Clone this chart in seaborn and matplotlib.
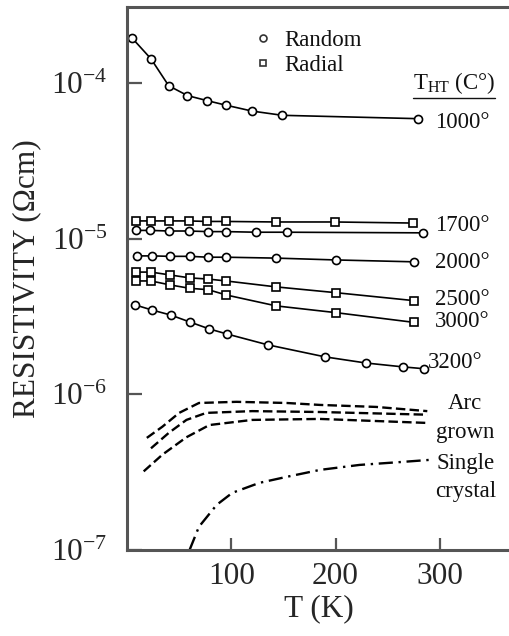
import numpy as np
import pandas as pd
import matplotlib
matplotlib.use("Agg")
import matplotlib.pyplot as plt
import matplotlib.ticker as mticker
from matplotlib.lines import Line2D
import seaborn as sns

# ---------------- data ----------------
T_1000 = [5, 23, 40, 58, 77, 95, 120, 149, 279]
R_1000 = [1.94e-4, 1.43e-4, 9.6e-5, 8.3e-5, 7.7e-5, 7.2e-5, 6.6e-5, 6.2e-5, 5.9e-5]

T_1700r = [9, 23, 40, 59, 77, 95, 143, 199, 274]
R_1700r = [1.30e-5, 1.30e-5, 1.30e-5, 1.30e-5, 1.29e-5, 1.29e-5, 1.28e-5, 1.28e-5, 1.26e-5]

T_1700 = [9, 22, 40, 59, 78, 95, 124, 153, 284]
R_1700 = [1.13e-5, 1.13e-5, 1.12e-5, 1.12e-5, 1.11e-5, 1.11e-5, 1.10e-5, 1.10e-5, 1.09e-5]

T_2000 = [10, 24, 41, 60, 78, 95, 143, 200, 275]
R_2000 = [7.75e-6, 7.75e-6, 7.7e-6, 7.7e-6, 7.6e-6, 7.6e-6, 7.5e-6, 7.3e-6, 7.1e-6]

T_2500 = [9, 23, 41, 60, 78, 95, 143, 200, 275]
R_2500 = [6.1e-6, 6.1e-6, 5.85e-6, 5.6e-6, 5.5e-6, 5.35e-6, 4.9e-6, 4.5e-6, 4.0e-6]

T_3000 = [9, 23, 41, 60, 78, 95, 143, 200, 275]
R_3000 = [5.35e-6, 5.35e-6, 5.05e-6, 4.8e-6, 4.7e-6, 4.35e-6, 3.7e-6, 3.35e-6, 2.9e-6]

T_3200 = [8, 24, 42, 60, 79, 96, 135, 190, 229, 265, 285]
R_3200 = [3.75e-6, 3.48e-6, 3.23e-6, 2.92e-6, 2.63e-6, 2.44e-6, 2.08e-6, 1.74e-6, 1.59e-6, 1.50e-6, 1.46e-6]

T_arc1 = [19, 34, 50, 69, 105, 153, 185, 239, 288]
R_arc1 = [5.25e-7, 6.2e-7, 7.6e-7, 8.8e-7, 8.95e-7, 8.8e-7, 8.55e-7, 8.3e-7, 7.8e-7]
T_arc2 = [23, 40, 57, 76, 120, 185, 288]
R_arc2 = [4.5e-7, 5.65e-7, 6.85e-7, 7.6e-7, 7.8e-7, 7.7e-7, 7.4e-7]
T_arc3 = [16, 34, 57, 79, 120, 185, 288]
R_arc3 = [3.2e-7, 4.1e-7, 5.3e-7, 6.35e-7, 6.85e-7, 6.95e-7, 6.55e-7]

T_single = [60, 69, 86, 101, 127, 153, 185, 223, 264, 292]
R_single = [1.0e-7, 1.41e-7, 1.95e-7, 2.33e-7, 2.7e-7, 2.95e-7, 3.27e-7, 3.52e-7, 3.68e-7, 3.8e-7]

x_ticks = [100, 200, 300]
y_ticks = [1e-7, 1e-6, 1e-5, 1e-4]

series_labels = ["1000°", "1700°", "2000°", "2500°", "3000°", "3200°"]
label_y = [5.6e-5, 1.22e-5, 7.08e-6, 4.04e-6, 2.92e-6, 1.59e-6]
label_x = [295, 295, 295, 295, 295, 288.5]

# ---------------- style ----------------
sns.set_theme(style="white")
plt.rcParams["font.family"] = ["Liberation Serif", "DejaVu Serif"]
plt.rcParams["mathtext.fontset"] = "custom"
plt.rcParams["mathtext.rm"] = "Liberation Serif"
plt.rcParams["mathtext.it"] = "Liberation Serif:italic"
plt.rcParams["text.color"] = "#111111"

W, H = 510, 636
fig = plt.figure(figsize=(W / 100, H / 100), dpi=100)
ax = fig.add_axes([127 / W, 1 - 550 / H, 1 - 127 / W, (550 - 7) / H])

line_kw = dict(color="black", lw=1.2, ax=ax, legend=False, errorbar=None,
               markerfacecolor="white", markeredgecolor="black",
               markeredgewidth=1.2, markersize=5.8, clip_on=False)

def solid(T, R, marker):
    df = pd.DataFrame({"T": T, "R": R})
    sns.lineplot(data=df, x="T", y="R", marker=marker, **line_kw)

solid(T_1000, R_1000, "o")
solid(T_1700r, R_1700r, "s")
solid(T_1700, R_1700, "o")
solid(T_2000, R_2000, "o")
solid(T_2500, R_2500, "s")
solid(T_3000, R_3000, "s")
solid(T_3200, R_3200, "o")

for T, R in [(T_arc1, R_arc1), (T_arc2, R_arc2), (T_arc3, R_arc3)]:
    df = pd.DataFrame({"T": T, "R": R})
    sns.lineplot(data=df, x="T", y="R", ax=ax, color="black", lw=1.7,
                 linestyle=(0, (4, 1.8)), legend=False, errorbar=None)

df = pd.DataFrame({"T": T_single, "R": R_single})
sns.lineplot(data=df, x="T", y="R", ax=ax, color="black", lw=1.7,
             linestyle=(0, (6, 2.4, 1, 2.4)), legend=False, errorbar=None)

ax.set_yscale("log")
ax.set_xlim(0, 367.3)
ax.set_ylim(1e-7, 10 ** (-4 + 76 / 155.67))
ax.set_xticks(x_ticks)
ax.set_yticks(y_ticks)
ax.yaxis.set_major_formatter(mticker.LogFormatterMathtext())
ax.yaxis.set_minor_locator(mticker.NullLocator())
ax.xaxis.set_minor_locator(mticker.NullLocator())

ax.tick_params(axis="y", direction="in", length=11, width=1.6, color="#555555",
               labelsize=22.5, pad=14, left=True)
ax.tick_params(axis="x", direction="in", length=8.5, width=1.6, color="#555555",
               labelsize=22.5, pad=9, bottom=True)
for s in ["left", "bottom", "top"]:
    ax.spines[s].set_linewidth(2.2)
    ax.spines[s].set_color("#555555")
ax.spines["right"].set_visible(False)

ax.set_xlabel("T (K)", fontsize=22.5, labelpad=2)
ax.set_ylabel("RESISTIVITY (Ωcm)", fontsize=22.5, labelpad=7)

# series labels
for lx, ly, lab in zip(label_x, label_y, series_labels):
    ax.text(lx, ly, lab, fontsize=16.5, ha="left", va="center")
ax.text(324, 8.79e-7, "Arc", fontsize=16.5, ha="center", va="center")
ax.text(324, 5.65e-7, "grown", fontsize=16.5, ha="center", va="center")
ax.text(325, 3.62e-7, "Single", fontsize=16.5, ha="center", va="center")
ax.text(325, 2.36e-7, "crystal", fontsize=16.5, ha="center", va="center")
th = ax.text(274, 9.1e-5, r"T$_{\mathregular{HT}}$ (C°)", fontsize=16.5,
             ha="left", va="baseline")

# legend
handles = [Line2D([], [], ls="none", marker="o", markersize=5,
                  markerfacecolor="white", markeredgecolor="#333333", markeredgewidth=1.2),
           Line2D([], [], ls="none", marker="s", markersize=5,
                  markerfacecolor="white", markeredgecolor="#333333", markeredgewidth=1.2)]
leg = ax.legend(handles, ["Random", "Radial"], loc="upper left",
                bbox_to_anchor=((255 - 127) / (W - 127), 1 - (30 - 7) / 543),
                frameon=False, fontsize=16.5, handlelength=0.7, handletextpad=0.6,
                labelspacing=0.15, borderpad=0, borderaxespad=0)

# underline for T_HT (C°)
fig.canvas.draw()
bb = th.get_window_extent()
yline = bb.y0 - 2
fig.add_artist(Line2D([bb.x0 / W, bb.x1 / W], [yline / H, yline / H],
                      transform=fig.transFigure, color="#111111", lw=1.0))

fig.savefig("out.png", dpi=100)
